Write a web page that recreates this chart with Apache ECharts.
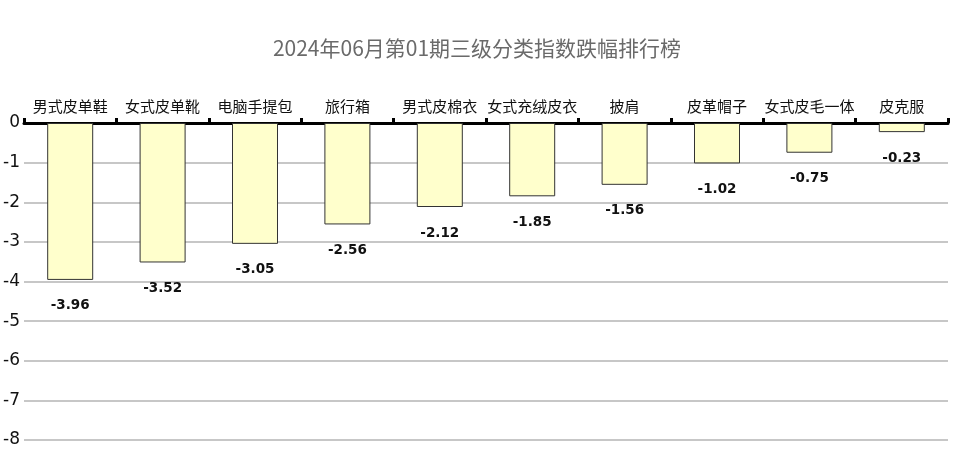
<!DOCTYPE html>
<html><head><meta charset="utf-8">
<script src="https://cdn.jsdelivr.net/npm/echarts@6/dist/echarts.min.js"></script>
<style>html,body{margin:0;padding:0;background:#fff}#c{width:954px;height:471px}</style>
</head><body><div id="c"></div>
<script>
const titleText = '2024年06月第01期三级分类指数跌幅排行榜';
const categories = ['男式皮单鞋','女式皮单靴','电脑手提包','旅行箱','男式皮棉衣','女式充绒皮衣','披肩','皮革帽子','女式皮毛一体','皮克服'];
const values = [-3.96,-3.52,-3.05,-2.56,-2.12,-1.85,-1.56,-1.02,-0.75,-0.23];
const yTicks = [0,-1,-2,-3,-4,-5,-6,-7,-8];

const chart = echarts.init(document.getElementById('c'));
chart.setOption({
  animation:false,
  title:{text:titleText,left:'center',top:33,textStyle:{fontFamily:'Noto Sans CJK SC',fontSize:21,fontWeight:'normal',color:'#6a6a6a'}},
  grid:{left:24,right:6,top:123,bottom:31,containLabel:false},
  xAxis:{type:'category',position:'top',data:categories,
    axisLine:{lineStyle:{color:'#000',width:3}},
    axisTick:{show:true,length:5,lineStyle:{color:'#000',width:3}},
    axisLabel:{margin:9,fontFamily:'Noto Sans CJK SC',fontSize:15,color:'#111',interval:0}},
  yAxis:{type:'value',min:-8,max:0,interval:1,
    axisLine:{show:false},axisTick:{show:false},
    axisLabel:{margin:4,fontFamily:'DejaVu Sans',fontSize:17,color:'#111'},
    splitLine:{lineStyle:{color:'#b4b4b4',width:1.5}}},
  series:[{type:'bar',data:values,barWidth:46,
    itemStyle:{color:'#ffffcc',borderColor:'#333',borderWidth:1},
    label:{show:true,position:'bottom',distance:19,fontFamily:'DejaVu Sans',fontWeight:'bold',fontSize:13.5,color:'#111'}}]
});
</script></body></html>
